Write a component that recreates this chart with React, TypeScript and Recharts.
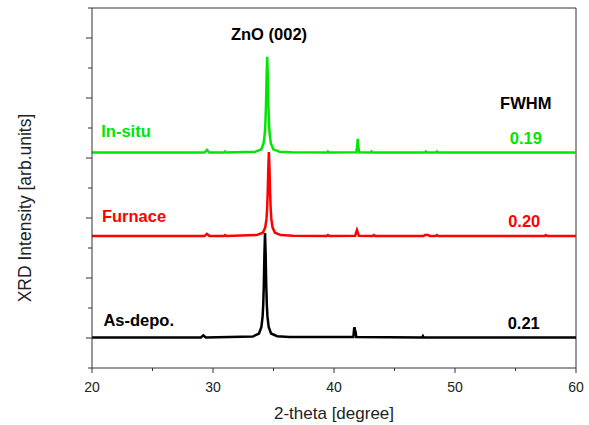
import {
  LineChart,
  Line,
  XAxis,
  YAxis,
  ReferenceLine,
  ReferenceDot,
  Label,
} from 'recharts';

const FONT = '"Liberation Sans", Arial, sans-serif';
const AXIS_COLOR = '#333333';
const GREEN = '#00e600';
const RED = '#ff0000';
const BLACK = '#000000';

// In-situ (green), offset baseline ~7.18
const inSituTheta = [20, 29.3, 29.5, 29.7, 30.9, 31.0, 31.1, 33.5, 34.0, 34.18, 34.28, 34.33, 34.38, 34.43, 34.48, 34.53, 34.58, 34.63, 34.68, 34.78, 34.98, 35.5, 36.5, 39.4, 39.5, 39.6, 41.84, 41.92, 41.96, 42.0, 42.08, 43.0, 43.1, 43.2, 47.5, 47.6, 47.7, 48.4, 48.5, 48.6, 60];
const inSituCounts = [7.18, 7.18, 7.27, 7.18, 7.18, 7.22, 7.18, 7.21, 7.29, 7.49, 7.81, 8.15, 8.77, 9.73, 10.37, 9.73, 8.77, 8.15, 7.81, 7.49, 7.29, 7.21, 7.19, 7.18, 7.22, 7.18, 7.19, 7.4, 7.64, 7.4, 7.19, 7.18, 7.22, 7.18, 7.18, 7.22, 7.18, 7.18, 7.22, 7.18, 7.18];

// Furnace (red), baseline ~4.4
const furnaceTheta = [20, 29.3, 29.5, 29.7, 30.9, 31.0, 31.1, 33.6, 34.12, 34.32, 34.42, 34.47, 34.52, 34.57, 34.62, 34.67, 34.72, 34.77, 34.82, 34.92, 35.12, 35.6, 36.6, 39.4, 39.5, 39.6, 41.75, 41.9, 42.05, 43.2, 43.3, 43.4, 47.4, 47.5, 47.8, 47.9, 48.4, 48.5, 48.6, 57.4, 57.5, 57.6, 60];
const furnaceCounts = [4.4, 4.4, 4.47, 4.4, 4.4, 4.43, 4.4, 4.43, 4.51, 4.69, 4.97, 5.28, 5.83, 6.65, 7.2, 6.65, 5.83, 5.28, 4.97, 4.69, 4.51, 4.43, 4.41, 4.4, 4.43, 4.4, 4.41, 4.6, 4.41, 4.4, 4.43, 4.4, 4.4, 4.43, 4.43, 4.4, 4.4, 4.43, 4.4, 4.4, 4.43, 4.4, 4.4];

// As-deposited (black), baseline ~1.02
const asDepoTheta = [20, 29.0, 29.2, 29.4, 33.3, 33.8, 34.0, 34.1, 34.15, 34.2, 34.25, 34.3, 34.35, 34.4, 34.45, 34.5, 34.6, 34.8, 35.3, 36.3, 41.6, 41.66, 41.7, 41.74, 41.78, 41.84, 47.3, 47.35, 47.4, 60];
const asDepoCounts = [1.02, 1.02, 1.09, 1.02, 1.05, 1.15, 1.37, 1.72, 2.1, 2.76, 3.81, 4.5, 3.81, 2.76, 2.1, 1.72, 1.37, 1.15, 1.06, 1.03, 1.03, 1.3, 1.36, 1.24, 1.22, 1.03, 1.02, 1.06, 1.02, 1.02];

const xTicks = [20, 25, 30, 35, 40, 45, 50, 55, 60];
const yTicks = [0, 1, 2, 3, 4, 5, 6, 7, 8, 9, 10, 11, 12];

// annotations
const noteText = ['ZnO (002)', 'In-situ', 'Furnace', 'As-depo.', 'FWHM', '0.19', '0.20', '0.21'];
const noteX = [34.63, 22.81, 23.47, 23.86, 55.85, 55.85, 55.72, 55.68];
const noteY = [11.13, 7.89, 5.05, 1.61, 8.83, 7.67, 4.88, 1.49];
const noteColor = [BLACK, GREEN, RED, BLACK, BLACK, GREEN, RED, BLACK];

const toPoints = (xs: number[], ys: number[]) => xs.map((x, i) => ({ theta: x, value: ys[i] }));

function XTick({ x, y, payload }: any) {
  const major = payload.value % 10 === 0;
  return (
    <g>
      <line x1={x} x2={x} y1={y} y2={y + (major ? 5 : 3)} stroke={AXIS_COLOR} />
      {major && (
        <text x={x} y={y + 23.5} textAnchor="middle" fontSize={14} fontFamily={FONT} fill="#222">
          {payload.value}
        </text>
      )}
    </g>
  );
}

function YTick({ x, y, payload }: any) {
  const major = payload.value % 2 === 1;
  return <line x1={x - (major ? 6 : 4)} x2={x} y1={y} y2={y} stroke={AXIS_COLOR} />;
}

export default function App() {
  const inSitu = toPoints(inSituTheta, inSituCounts);
  const furnace = toPoints(furnaceTheta, furnaceCounts);
  const asDepo = toPoints(asDepoTheta, asDepoCounts);

  return (
    <div style={{ position: 'absolute', left: 0, top: 0, background: '#fff' }}>
      <LineChart width={589} height={425} margin={{ top: 8, right: 13, bottom: 0, left: 0 }}>
        <XAxis
          dataKey="theta"
          type="number"
          domain={[20, 60]}
          ticks={xTicks}
          interval={0}
          height={57}
          tickSize={0}
          tickMargin={0}
          tickLine={false}
          tick={<XTick />}
          axisLine={{ stroke: AXIS_COLOR }}
          allowDataOverflow
        >
          <Label
            content={({ viewBox }: any) => (
              <text
                x={viewBox.x + viewBox.width / 2}
                y={viewBox.y + 50.5}
                textAnchor="middle"
                fontSize={17}
                fontFamily={FONT}
                fill="#222"
              >
                2-theta [degree]
              </text>
            )}
          />
        </XAxis>
        <YAxis
          type="number"
          domain={[0, 12]}
          ticks={yTicks}
          interval={0}
          width={92}
          tickSize={0}
          tickMargin={0}
          tickLine={false}
          tick={<YTick />}
          axisLine={{ stroke: AXIS_COLOR }}
          allowDataOverflow
        >
          <Label
            content={({ viewBox }: any) => (
              <text
                transform={`translate(31, ${viewBox.y + viewBox.height / 2 + 20}) rotate(-90)`}
                textAnchor="middle"
                fontSize={17.5}
                fontFamily={FONT}
                fill="#222"
              >
                XRD Intensity [arb.units]
              </text>
            )}
          />
        </YAxis>
        <ReferenceLine y={12} stroke={AXIS_COLOR} />
        <ReferenceLine x={60} stroke={AXIS_COLOR} />
        <Line data={asDepo} dataKey="value" type="linear" stroke={BLACK} strokeWidth={2.5} dot={false} isAnimationActive={false} />
        <Line data={furnace} dataKey="value" type="linear" stroke={RED} strokeWidth={2.5} dot={false} isAnimationActive={false} />
        <Line data={inSitu} dataKey="value" type="linear" stroke={GREEN} strokeWidth={2.5} dot={false} isAnimationActive={false} />
        {noteText.map((t, i) => (
          <ReferenceDot
            key={t}
            x={noteX[i]}
            y={noteY[i]}
            r={0}
            fill="none"
            stroke="none"
            label={{
              value: t,
              position: 'center',
              fill: noteColor[i],
              fontSize: 16.5,
              fontWeight: 'bold',
              fontFamily: FONT,
            }}
          />
        ))}
      </LineChart>
    </div>
  );
}
